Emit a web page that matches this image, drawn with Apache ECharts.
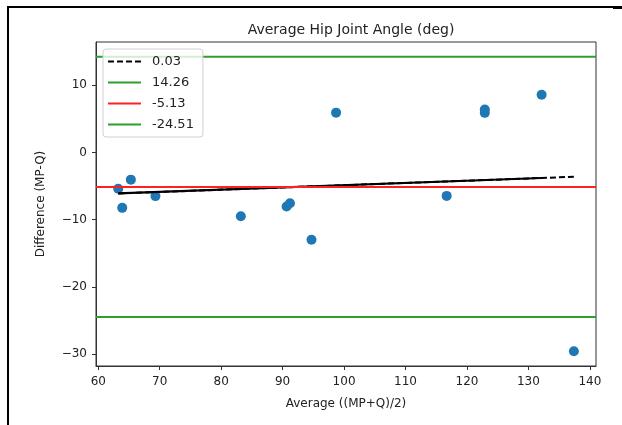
<!DOCTYPE html>
<html>
<head>
<meta charset="utf-8">
<script src="https://cdn.jsdelivr.net/npm/echarts@6/dist/echarts.min.js"></script>
<style>
  html, body { margin: 0; padding: 0; background: #fff; }
  #chart { width: 622px; height: 425px; }
</style>
</head>
<body>
<div id="chart"></div>
<script>
// ── Data ────────────────────────────────────────────────────────────────────
const avgX  = [63.25, 63.9, 65.3, 69.3, 83.2, 90.65, 91.2, 94.7, 98.7, 116.7, 122.9, 122.9, 132.15, 137.4];
const diffY = [-5.4, -8.25, -4.05, -6.5, -9.5, -8.05, -7.55, -13.0, 5.93, -6.47, 6.4, 5.9, 8.6, -29.6];

// regression line (dashed, label is its slope), overlapping part looks solid
const fitX = [63.25, 132.15, 137.4];
const fitY = [-6.1, -3.8, -3.62];

const meanDiff = -5.13;
const upperLoA = 14.26;
const lowerLoA = -24.51;

const xRange = [59.63, 141.0];
const yRange = [-31.8, 16.45];
const xTicks = [60, 70, 80, 90, 100, 110, 120, 130, 140];
const yTicks = [-30, -20, -10, 0, 10];

const FONT = 'DejaVu Sans';

const hline = (v) => xRange.map(x => [x, v]);
const minus = (v) => (v < 0 ? '\u2212' + Math.abs(v) : String(v));

const chart = echarts.init(document.getElementById('chart'));

chart.setOption({
    animation: false,
    backgroundColor: '#fff',
    textStyle: { fontFamily: FONT },
    title: {
        text: 'Average Hip Joint Angle (deg)',
        left: 346, top: 18, textAlign: 'center',
        textStyle: { fontFamily: FONT, fontSize: 14, fontWeight: 'normal', color: '#222' }
    },
    legend: {
        orient: 'vertical',
        left: 103, top: 49,
        z: 10,
        data: ['0.03', '14.26', '-5.13', '-24.51'],
        itemWidth: 33, itemHeight: 14, itemGap: 8,
        padding: [6, 9, 6, 4],
        itemStyle: { opacity: 0 },
        backgroundColor: 'rgba(255,255,255,0.8)',
        borderColor: '#d0d0d0', borderWidth: 1, borderRadius: 3,
        textStyle: { fontFamily: FONT, fontSize: 13, color: '#222', padding: [0, 0, 0, 6] }
    },
    grid: {
        left: 96, top: 42, right: 26, bottom: 59,
        show: true, borderColor: '#333', borderWidth: 1, backgroundColor: 'transparent'
    },
    xAxis: {
        type: 'value', min: xRange[0], max: xRange[1],
        name: 'Average ((MP+Q)/2)', nameLocation: 'middle', nameGap: 32,
        nameTextStyle: { fontFamily: FONT, fontSize: 12, color: '#222' },
        axisLine: { show: true, onZero: false, lineStyle: { color: '#333', width: 1 } },
        axisTick: { show: true, inside: false, length: 4, customValues: xTicks, lineStyle: { color: '#333' } },
        axisLabel: { customValues: xTicks, margin: 10, fontFamily: FONT, fontSize: 12, color: '#222', formatter: minus },
        splitLine: { show: false }
    },
    yAxis: {
        type: 'value', min: yRange[0], max: yRange[1],
        name: 'Difference (MP-Q)', nameLocation: 'middle', nameGap: 49, nameRotate: 90,
        nameTextStyle: { fontFamily: FONT, fontSize: 12, color: '#222' },
        axisLine: { show: true, onZero: false, lineStyle: { color: '#333', width: 1 } },
        axisTick: { show: true, inside: false, length: 4, customValues: yTicks, lineStyle: { color: '#333' } },
        axisLabel: { customValues: yTicks, margin: 9, fontFamily: FONT, fontSize: 12, color: '#222', formatter: minus },
        splitLine: { show: false }
    },
    graphic: [
        { type: 'polyline', shape: { points: [[8, 425], [8, 7], [622, 7]] }, style: { stroke: '#000', lineWidth: 2, fill: null }, z: 100 },
        { type: 'rect', shape: { x: 613, y: 6, width: 9, height: 3 }, style: { fill: '#000' }, z: 100 }
    ],
    series: [
        {
            name: 'points', type: 'scatter',
            data: avgX.map((x, i) => [x, diffY[i]]),
            symbolSize: 10,
            itemStyle: { color: '#1f77b4', opacity: 1 }
        },
        {
            name: 'fitSolid', type: 'line', symbol: 'none',
            data: fitX.slice(0, 2).map((x, i) => [x, fitY[i]]),
            lineStyle: { color: '#000', width: 2.2 }
        },
        {
            name: '0.03', type: 'line', symbol: 'none',
            data: fitX.map((x, i) => [x, fitY[i]]),
            lineStyle: { color: '#000', width: 2, type: [6, 3] },
            itemStyle: { color: '#000' }
        },
        {
            name: '14.26', type: 'line', symbol: 'none',
            data: hline(upperLoA),
            lineStyle: { color: '#2ca02c', width: 2 },
            itemStyle: { color: '#2ca02c' }
        },
        {
            name: '-5.13', type: 'line', symbol: 'none',
            data: hline(meanDiff),
            lineStyle: { color: '#ff2020', width: 2 },
            itemStyle: { color: '#ff2020' }
        },
        {
            name: '-24.51', type: 'line', symbol: 'none',
            data: hline(lowerLoA),
            lineStyle: { color: '#2ca02c', width: 2 },
            itemStyle: { color: '#2ca02c' }
        }
    ]
});
</script>
</body>
</html>
